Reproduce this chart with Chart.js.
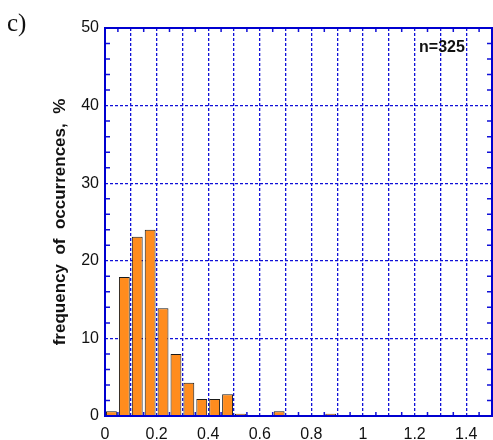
<!DOCTYPE html>
<html>
<head>
<meta charset="utf-8">
<script src="https://cdn.jsdelivr.net/npm/chart.js@4/dist/chart.umd.min.js"></script>
<style>
  html, body { margin: 0; padding: 0; background: #fff; }
  #wrap { width: 493px; height: 440px; }
</style>
</head>
<body>
<div id="wrap"><canvas id="chart"></canvas></div>
<script>
// bin centres (bin width 0.05)
const binCenters = [0.025, 0.075, 0.125, 0.175, 0.225, 0.275, 0.325, 0.375, 0.425, 0.475,
                    0.525, 0.575, 0.625, 0.675, 0.725, 0.775, 0.825, 0.875]
// frequency of occurrences, %
const freqValues = [0.6, 17.9, 23.1, 24.0, 13.9, 8.0, 4.3, 2.2, 2.2, 2.8,
                    0.3, 0, 0, 0.6, 0, 0, 0, 0.3]
const xLabels = ['0', '0.2', '0.4', '0.6', '0.8', '1', '1.2', '1.4']
const yLabels = ['0', '10', '20', '30', '40', '50']
const sampleText = 'n=325'
const panelText = 'c)'

const gridBlue = '#1010d8'

function xTickLabel(v) {
    let i = Math.round(v * 10)
    if (i % 2 !== 0) return ''
    return xLabels[i / 2] || ''
}

const framePlugin = {
    id: 'frame',
    afterDraw(chart) {
        const ctx = chart.ctx
        const a = chart.chartArea
        const xs = chart.scales.x
        const ys = chart.scales.y
        ctx.save()
        // minor ticks
        ctx.strokeStyle = gridBlue
        ctx.lineWidth = 1.5
        ctx.beginPath()
        for (let v = 2; v < 50; v += 2) {
            if (v % 10 === 0) continue
            const py = ys.getPixelForValue(v)
            ctx.moveTo(a.left, py); ctx.lineTo(a.left + 5, py)
            ctx.moveTo(a.right, py); ctx.lineTo(a.right - 5, py)
        }
        for (let k = 1; k < 30; k += 2) {
            const px = xs.getPixelForValue(k * 0.05)
            ctx.moveTo(px, a.bottom); ctx.lineTo(px, a.bottom - 4)
            ctx.moveTo(px, a.top); ctx.lineTo(px, a.top + 4)
        }
        ctx.stroke()
        // frame
        ctx.lineWidth = 2
        ctx.strokeStyle = '#0000d0'
        ctx.strokeRect(a.left, a.top, a.right - a.left, a.bottom - a.top)
        // texts
        ctx.fillStyle = '#111'
        ctx.font = 'bold 16px "Liberation Sans", Arial, sans-serif'
        ctx.textAlign = 'center'
        ctx.textBaseline = 'middle'
        ctx.fillText(sampleText, 442, 48)
        ctx.font = '25px "Liberation Serif", "Times New Roman", serif'
        ctx.textAlign = 'left'
        ctx.textBaseline = 'alphabetic'
        ctx.fillText(panelText, 7, 31)
        ctx.restore()
    }
}

const data = {
    datasets: [{
        label: 'frequency',
        data: binCenters.map((c, i) => ({x: c, y: freqValues[i]})),
        backgroundColor: '#ff8c1e',
        borderColor: '#1a1a1a',
        borderWidth: 1,
        borderSkipped: 'bottom',
        barPercentage: 0.84,
        categoryPercentage: 1
    }]
}

const config = {
    type: 'bar',
    data: data,
    options: {
        responsive: true,
        maintainAspectRatio: false,
        animation: false,
        layout: { padding: { left: 0, right: 1, top: 28, bottom: 0 } },
        plugins: { legend: { display: false }, tooltip: { enabled: false } },
        scales: {
            x: {
                type: 'linear',
                offset: false,
                min: 0, max: 1.5,
                afterFit(s) { s.height = 24; s.paddingLeft = 0; s.paddingRight = 0 },
                grid: { color: gridBlue, lineWidth: 1.3, drawTicks: false, offset: false },
                border: { display: false, dash: [3, 2] },
                ticks: {
                    stepSize: 0.1, autoSkip: false, maxRotation: 0, padding: 9,
                    color: '#111', font: { size: 16, family: '"Liberation Sans", Arial, sans-serif' },
                    callback: (v) => xTickLabel(v)
                }
            },
            y: {
                min: 0, max: 50,
                afterFit(s) { s.width = 105; s.paddingTop = 0; s.paddingBottom = 0 },
                grid: { color: gridBlue, lineWidth: 1.3, drawTicks: false },
                border: { display: false, dash: [3, 2] },
                ticks: {
                    stepSize: 10, padding: 6,
                    color: '#111', font: { size: 16, family: '"Liberation Sans", Arial, sans-serif' },
                    callback: (v) => yLabels[Math.round(v / 10)]
                },
                title: {
                    display: true,
                    text: 'frequency  of  occurrences,  %',
                    color: '#111',
                    font: { size: 17, weight: 'bold', family: '"Liberation Sans", Arial, sans-serif' },
                    padding: { top: 50, bottom: 0 }
                }
            }
        }
    },
    plugins: [framePlugin]
}

let ctx = document.getElementById('chart').getContext('2d')
new Chart(ctx, config)
</script>
</body>
</html>
